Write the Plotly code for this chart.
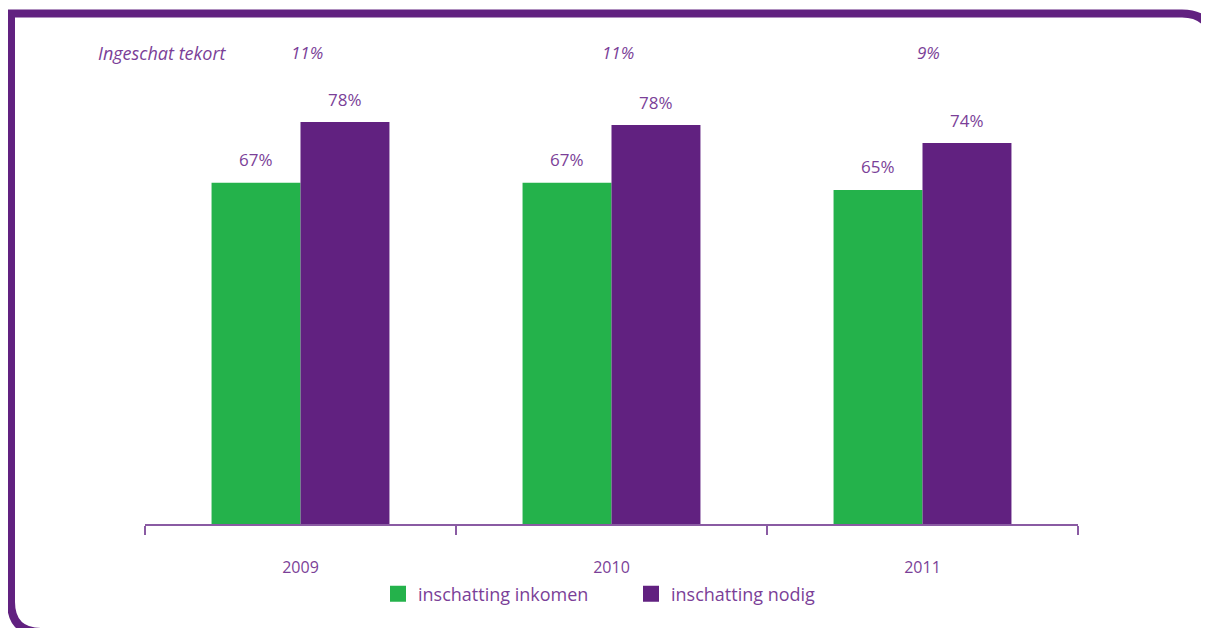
import plotly.graph_objects as go

years = ["2009", "2010", "2011"]
inkomen = [66.2, 66.2, 64.8]
nodig = [78.0, 77.4, 73.9]
inkomen_labels = ["67%", "67%", "65%"]
nodig_labels = ["78%", "78%", "74%"]
tekort_labels = ["11%", "11%", "9%"]
series_names = ["inschatting inkomen", "inschatting nodig"]

GREEN = "#24b24b"
PURPLE = "#612180"
TEXT = "#7b3f98"
AXIS = "#8a5ba3"
FONT = "Open Sans"

O = 8  # page body offset
W, H = 1209, 628
L, R, T, B = 145 - O, 131 + O, 40 - O, 104 + O
PW, PH = W - L - R, H - T - B


def px(x):
    return (x - O - L) / PW


def py(y):
    return (H - B - (y - O)) / PH


idx = list(range(len(years)))

fig = go.Figure()
fig.add_trace(go.Bar(x=idx, y=inkomen, name=series_names[0], showlegend=False,
                     marker=dict(color=GREEN, line=dict(width=0))))
fig.add_trace(go.Bar(x=idx, y=nodig, name=series_names[1], showlegend=False,
                     marker=dict(color=PURPLE, line=dict(width=0))))
# legend entries with larger square swatches
for name, col in zip(series_names, [GREEN, PURPLE]):
    fig.add_trace(go.Scatter(x=[None], y=[None], mode="markers", name=name,
                             marker=dict(symbol="square", size=17, color=col, line=dict(width=0))))

annotations = []
for i in idx:
    annotations.append(dict(x=i, y=inkomen[i], text=inkomen_labels[i], xref="x", yref="y",
                            showarrow=False, xshift=-44.5, yshift=10, yanchor="bottom",
                            font=dict(family=FONT, size=17, color=TEXT)))
    annotations.append(dict(x=i, y=nodig[i], text=nodig_labels[i], xref="x", yref="y",
                            showarrow=False, xshift=44.5, yshift=9, yanchor="bottom",
                            font=dict(family=FONT, size=17, color=TEXT)))
    annotations.append(dict(x=i, y=py(53), text="<i>" + tekort_labels[i] + "</i>", xref="x", yref="paper",
                            showarrow=False, xshift=6, yanchor="middle",
                            font=dict(family=FONT, size=17, color=TEXT)))
annotations.append(dict(x=px(96), y=py(53), text="<i>Ingeschat tekort</i>", xref="paper", yref="paper",
                        showarrow=False, xanchor="left", yanchor="middle",
                        font=dict(family=FONT, size=18, color=TEXT)))

# frame (screen pixel coordinates)
x0, y0 = 11, 13.5
xr, yb = 1212, 632
r = 30
path = (f"M {px(xr)},{py(y0 + r)} Q {px(xr)},{py(y0)} {px(xr - r)},{py(y0)} "
        f"L {px(x0)},{py(y0)} L {px(x0)},{py(yb - r)} "
        f"Q {px(x0)},{py(yb)} {px(x0 + r)},{py(yb)}")
shapes = [dict(type="path", path=path, xref="paper", yref="paper",
               line=dict(color=PURPLE, width=8), layer="above")]

bounds = [i - 0.5 for i in idx] + [idx[-1] + 0.5]

fig.update_layout(
    width=W, height=H,
    margin=dict(l=L, r=R, t=T, b=B),
    paper_bgcolor="white", plot_bgcolor="white",
    barmode="group", bargap=0.428, bargroupgap=0,
    font=dict(family=FONT, color=TEXT),
    xaxis=dict(range=[bounds[0], bounds[-1]], tickmode="array", tickvals=idx, ticktext=years,
               ticks="", showline=True, linecolor=AXIS, linewidth=1.5,
               showgrid=False, zeroline=False, ticklabelstandoff=28,
               minor=dict(tickmode="array", tickvals=bounds, ticks="outside", ticklen=9,
                          tickcolor=AXIS, tickwidth=1.5, showgrid=False),
               tickfont=dict(family=FONT, size=16, color=TEXT)),
    yaxis=dict(visible=False, range=[0, PH / 5.154]),
    showlegend=True,
    legend=dict(orientation="h", x=px(378), xanchor="left", y=py(594), yanchor="middle",
                entrywidth=208, itemsizing="trace",
                font=dict(family=FONT, size=18, color=TEXT), bgcolor="rgba(0,0,0,0)"),
    annotations=annotations,
    shapes=shapes,
)

fig.write_html("out.html")
